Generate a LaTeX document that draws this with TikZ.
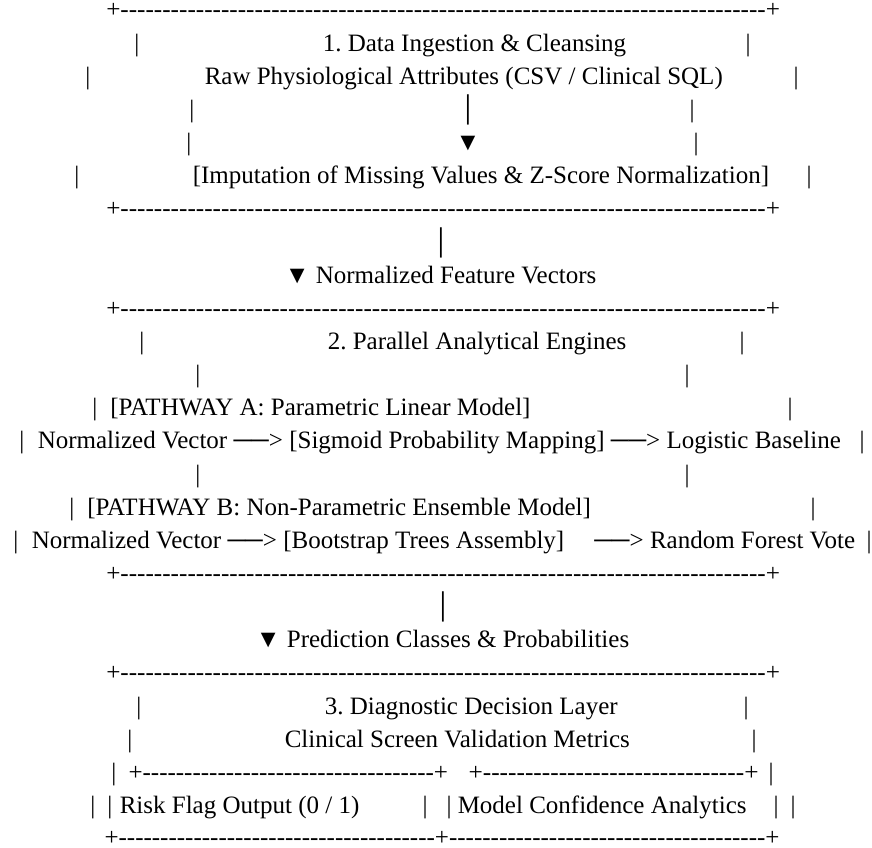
\documentclass[tikz,border=0pt]{standalone}
\usepackage{fontspec}
\usepackage{graphicx}
\setmainfont{Liberation Serif}
\ExplSyntaxOn
\cs_new:Npn \dashrun #1 { \prg_replicate:nn {#1} { -\kern0pt } }
\ExplSyntaxOff
\newcommand\tnrsize{\fontsize{18.75}{22}\selectfont\frenchspacing}
\tikzset{
  txt/.style={anchor=base west, inner sep=0pt, font=\tnrsize},
  bar/.style={anchor=base, inner sep=0pt, font=\tnrsize},
}
\begin{document}
\frenchspacing
\begin{tikzpicture}[x=0.75pt,y=-0.75pt]
\fill[white] (0,0) rectangle (872,848);
\useasboundingbox (0,0) rectangle (872,848);
% row 0
\node[txt] (r0) at (106,18) {\scalebox{1.0067}[1]{+\dashrun{77}+}};
% row 1
\node[bar] (r1a) at (137,51.15) {|};
\node[txt] (r1b) at (322.5,51.15) {1. Data Ingestion \& Cleansing};
\node[bar] (r1c) at (748,51.15) {|};
% row 2
\node[bar] (r2a) at (88,84.3) {|};
\node[txt] (r2b) at (204.5,84.3) {Raw Physiological Attributes (CSV / Clinical SQL)};
\node[bar] (r2c) at (796,84.3) {|};
% row 3
\node[bar] (r3a) at (192,117.45) {|};
\node[bar] (r3b) at (468,117.45) {│};
\node[bar] (r3c) at (692,117.45) {|};
% row 4
\node[bar] (r4a) at (189,150.6) {|};
\node[bar] (r4b) at (468,150.6) {▼};
\node[bar] (r4c) at (696,150.6) {|};
% row 5
\node[bar] (r5a) at (77,183.75) {|};
\node[txt] (r5b) at (192.5,183.75) {[Imputation of Missing Values \& Z-Score Normalization]};
\node[bar] (r5c) at (809,183.75) {|};
% row 6
\node[txt] (r6) at (106,216.9) {\scalebox{1.0067}[1]{+\dashrun{77}+}};
% row 7
\node[bar] (r7) at (441,250.05) {│};
% row 8
\node[txt] (r8) at (284.6,283.2) {▼ Normalized Feature Vectors};
% row 9
\node[txt] (r9) at (106,316.35) {\scalebox{1.0067}[1]{+\dashrun{77}+}};
% row 10
\node[bar] (r10a) at (142,349.5) {|};
\node[txt] (r10b) at (327.5,349.5) {2. Parallel Analytical Engines};
\node[bar] (r10c) at (742,349.5) {|};
% row 11
\node[bar] (r11a) at (198,382.65) {|};
\node[bar] (r11b) at (687,382.65) {|};
% row 12
\node[bar] (r12a) at (95,415.8) {|};
\node[txt] (r12b) at (110,415.8) {[PATHWAY A: Parametric Linear Model]};
\node[bar] (r12c) at (790,415.8) {|};
% row 13
\node[bar] (r13a) at (22,448.95) {|};
\node[txt] (r13b) at (37.5,448.95) {Normalized Vector ──> [Sigmoid Probability Mapping] ──> Logistic Baseline};
\node[bar] (r13c) at (862,448.95) {|};
% row 14
\node[bar] (r14a) at (198,482.1) {|};
\node[bar] (r14b) at (687,482.1) {|};
% row 15
\node[bar] (r15a) at (72,515.25) {|};
\node[txt] (r15b) at (87,515.25) {[PATHWAY B: Non-Parametric Ensemble Model]};
\node[bar] (r15c) at (813,515.25) {|};
% row 16
\node[bar] (r16a) at (16,548.4) {|};
\node[txt] (r16b) at (31.5,548.4) {Normalized Vector ──> [Bootstrap Trees Assembly]};
\node[txt] (r16c) at (594,548.4) {──> Random Forest Vote};
\node[bar] (r16d) at (869,548.4) {|};
% row 17
\node[txt] (r17) at (106,581.55) {\scalebox{1.0067}[1]{+\dashrun{77}+}};
% row 18
\node[bar] (r18) at (443,614.7) {│};
% row 19
\node[txt] (r19) at (255.6,647.85) {▼ Prediction Classes \& Probabilities};
% row 20
\node[txt] (r20) at (106,681) {\scalebox{1.0067}[1]{+\dashrun{77}+}};
% row 21
\node[bar] (r21a) at (139,714.15) {|};
\node[txt] (r21b) at (324.5,714.15) {3. Diagnostic Decision Layer};
\node[bar] (r21c) at (746,714.15) {|};
% row 22
\node[bar] (r22a) at (130,747.3) {|};
\node[txt] (r22b) at (284.5,747.3) {Clinical Screen Validation Metrics};
\node[bar] (r22c) at (754,747.3) {|};
% row 23
\node[bar] (r23a) at (114,780.45) {|};
\node[txt] (r23b) at (128.25,780.45) {+\dashrun{35}+};
\node[txt] (r23c) at (468.3,780.45) {\scalebox{1.013}[1]{+\dashrun{31}+}};
\node[bar] (r23d) at (771,780.45) {|};
% row 24
\node[bar] (r24a) at (93,813.6) {|};
\node[bar] (r24b) at (110,813.6) {|};
\node[txt] (r24c) at (119.5,813.6) {Risk Flag Output (0 / 1)};
\node[bar] (r24d) at (425,813.6) {|};
\node[bar] (r24e) at (449,813.6) {|};
\node[txt] (r24f) at (457.5,813.6) {Model Confidence Analytics};
\node[bar] (r24g) at (776,813.6) {|};
\node[bar] (r24h) at (793,813.6) {|};
% row 25
\node[txt] (r25) at (104.25,845.2) {+\dashrun{38}+\dashrun{38}+};
\end{tikzpicture}
\end{document}
